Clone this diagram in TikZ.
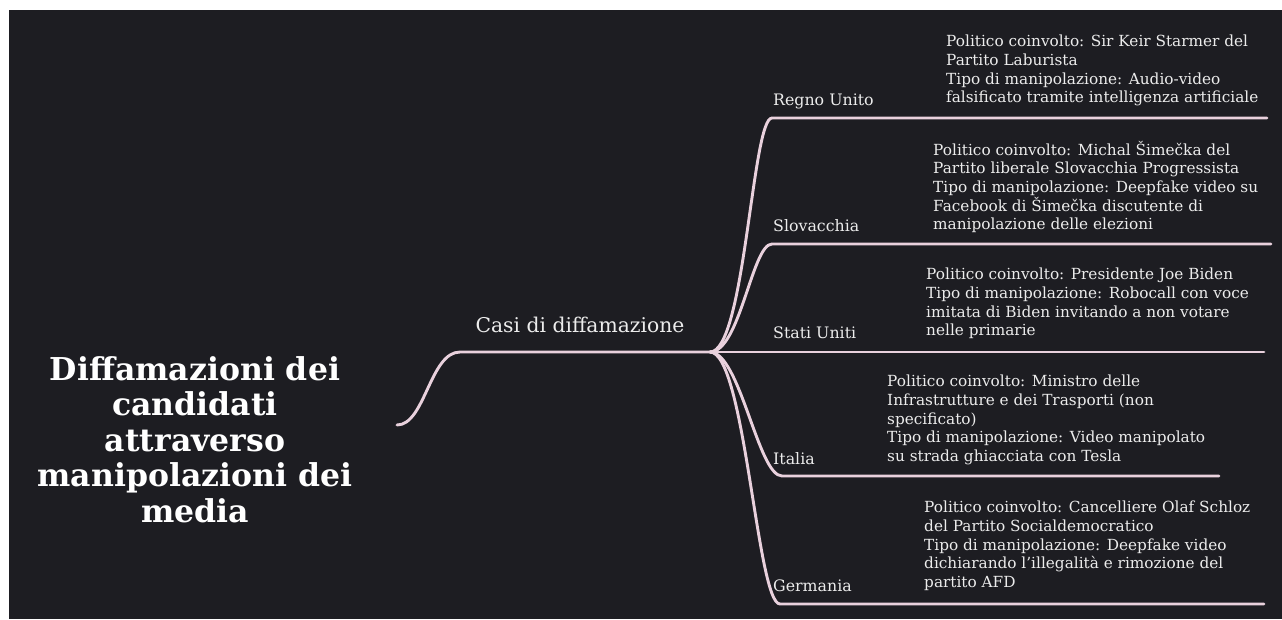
\documentclass[tikz,border=0pt]{standalone}
\usepackage{fontspec}
\setmainfont{DejaVu Serif}
\definecolor{bg}{HTML}{1D1D22}
\definecolor{branch}{HTML}{E9D1DD}
\definecolor{txt}{HTML}{ECECEC}
\begin{document}
\begin{tikzpicture}[x=1pt,y=-1pt,
  branchline/.style={draw=branch, line width=2.9pt, line cap=round},
  titletext/.style={text=white, font=\fontsize{31.5}{35.5}\selectfont\bfseries, align=center, inner sep=0, anchor=north},
  casitext/.style={text=txt, font=\fontsize{20.3}{24}\selectfont, inner sep=0, anchor=base},
  countrytext/.style={text=txt, font=\fontsize{15.8}{18}\selectfont, inner sep=0, anchor=base west},
  detailtext/.style={text=txt, font=\fontsize{15.3}{18.6}\selectfont, align=left, inner sep=0, anchor=north west}]
\fill[white] (0,0) rectangle (1282,619);
\fill[bg] (9,10) rectangle (1282,619);
\useasboundingbox (0,0) rectangle (1282,619);

% root
\node[titletext] (root) at (195,356) {Diffamazioni dei\\candidati\\attraverso\\manipolazioni dei\\media};
\coordinate (rootend) at (397,425);
\node[casitext] (casi) at (580,332) {Casi di diffamazione};
\coordinate (casiL) at (460,352);
\coordinate (hub) at (710,352);
\draw[branchline] (rootend) .. controls (425,425) and (430,352) .. (casiL) -- (hub);

% country labels
\node[countrytext] (ru) at (773,105) {Regno Unito};
\node[countrytext] (sk) at (773,231) {Slovacchia};
\node[countrytext] (us) at (773,338) {Stati Uniti};
\node[countrytext] (it) at (773,464) {Italia};
\node[countrytext] (de) at (773,591) {Germania};

% branch lines
\coordinate (ruA) at (772,118); \coordinate (ruB) at (1267,118);
\coordinate (skA) at (772,244); \coordinate (skB) at (1271,244);
\coordinate (usB) at (1264,352);
\coordinate (itA) at (782,476); \coordinate (itB) at (1219,476);
\coordinate (deA) at (780,604); \coordinate (deB) at (1264,604);
\draw[branchline] (hub) .. controls (745,352) and (752,118) .. (ruA) -- (ruB);
\draw[branchline] (hub) .. controls (740,352) and (752,244) .. (skA) -- (skB);
\draw[branchline] (hub) -- (usB);
\draw[branchline] (hub) .. controls (740,352) and (758,476) .. (itA) -- (itB);
\draw[branchline] (hub) .. controls (745,352) and (757,604) .. (deA) -- (deB);

% details
\node[detailtext] (ruD) at (946,35) {Politico coinvolto: Sir Keir Starmer del\\Partito Laburista\\Tipo di manipolazione: Audio-video\\falsificato tramite intelligenza artificiale};
\node[detailtext] (skD) at (933,141) {Politico coinvolto: Michal Šimečka del\\Partito liberale Slovacchia Progressista\\Tipo di manipolazione: Deepfake video su\\Facebook di Šimečka discutente di\\manipolazione delle elezioni};
\node[detailtext] (usD) at (926,268) {Politico coinvolto: Presidente Joe Biden\\Tipo di manipolazione: Robocall con voce\\imitata di Biden invitando a non votare\\nelle primarie};
\node[detailtext] (itD) at (887,375) {Politico coinvolto: Ministro delle\\Infrastrutture e dei Trasporti (non\\specificato)\\Tipo di manipolazione: Video manipolato\\su strada ghiacciata con Tesla};
\node[detailtext] (deD) at (924,501) {Politico coinvolto: Cancelliere Olaf Schloz\\del Partito Socialdemocratico\\Tipo di manipolazione: Deepfake video\\dichiarando l'illegalità e rimozione del\\partito AFD};
\end{tikzpicture}
\end{document}
